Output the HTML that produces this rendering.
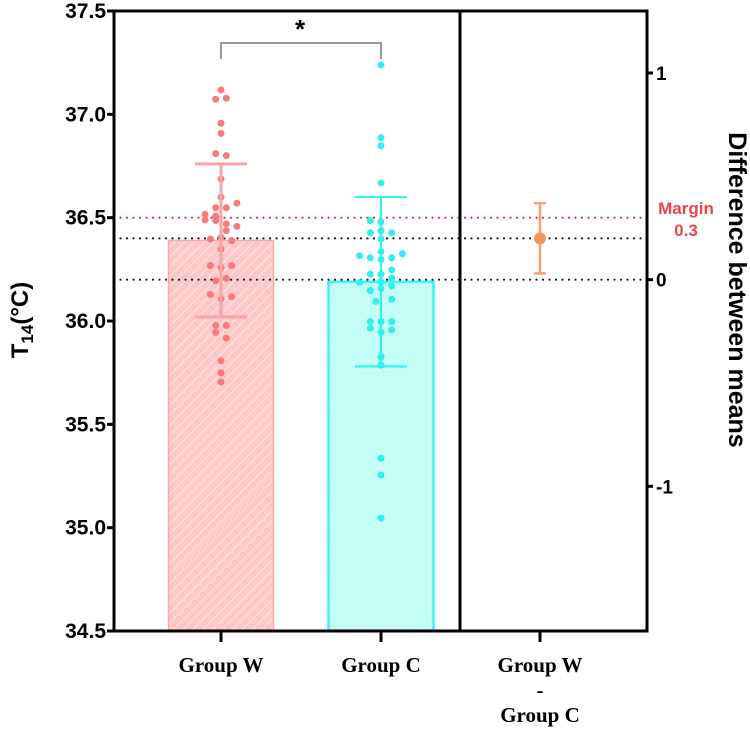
<!DOCTYPE html>
<html><head><meta charset="utf-8"><style>
html,body{margin:0;padding:0;background:#fff;}
svg{display:block;}
.sans{font-family:"Liberation Sans",sans-serif;}
.serif{font-family:"Liberation Serif",serif;}
</style></head><body>
<svg id="chart" width="750" height="741" viewBox="0 0 750 741">
<defs>
<pattern id="hatchW" width="7" height="7" patternUnits="userSpaceOnUse" patternTransform="rotate(45)">
<rect width="7" height="7" fill="#ffc8c8"/><line x1="0" y1="0" x2="0" y2="7" stroke="#ffe6e6" stroke-width="2"/></pattern>
<pattern id="hatchC" width="7" height="7" patternUnits="userSpaceOnUse" patternTransform="rotate(45)">
<rect width="7" height="7" fill="#c2fff9"/><line x1="0" y1="0" x2="0" y2="7" stroke="#d4f8e4" stroke-width="2"/></pattern>
</defs>
<g id="plot"></g>
</svg>
<script>
const categories = ["Group W","Group C"];
const means = [36.39, 36.19];
const sdHigh = [36.76, 36.60];
const sdLow = [36.02, 35.78];
const yTicks = [34.5,35.0,35.5,36.0,36.5,37.0,37.5];
const yTickLabels = ["34.5","35.0","35.5","36.0","36.5","37.0","37.5"];
const pointsW = [37.118,37.073,37.078,36.957,36.908,36.81,36.80,36.687,36.599,36.570,36.548,36.548,36.516,36.508,36.489,36.486,36.470,36.458,36.437,36.405,36.397,36.389,36.347,36.268,36.258,36.268,36.207,36.194,36.128,36.118,36.107,35.978,35.978,35.945,35.917,35.807,35.749,35.705];
const offsetsW = [0,-1,1,0,0,-1,1,0,0,3,-1,1,-3,-1,-3,-1,1,3,1,0,-2,2,0,-2,0,2,1,-1,-2,2,0,-1,1,-1,1,0,0,0];
const pointsC = [37.239,36.887,36.848,36.668,36.486,36.479,36.427,36.437,36.427,36.397,36.336,36.316,36.306,36.298,36.306,36.326,36.247,36.226,36.226,36.207,36.186,36.19,36.170,36.157,36.147,36.105,36.095,35.997,35.997,35.997,35.965,35.957,35.945,35.828,35.826,35.786,35.336,35.255,35.046];
const offsetsC = [0,0,0,0,-1,0,-1,0,1,0,0,-2,-1,0,1,2,1,-1,0,1,-2,0,1,0,-1,1,-0.5,-1,0,1,-1,1,0,0,0,0,0,0,0];
const diffLabel = ["Group W","-","Group C"];
const diffMean = 0.20, diffLow = 0.03, diffHigh = 0.37;
const rTicks = [-1,0,1];
const margin = 0.3;
const refLines = [0.3, 0.2, 0];

const NS="http://www.w3.org/2000/svg";
const g=document.getElementById('plot');
const L=114,R=647,T=11,B=631,DIV=460;
const y=v=>B-(v-34.5)*(B-T)/3;
const yr=v=>y(v+36.2);
const xc=[221,381], xd=540;
function mk(tag,attrs,parent){const e=document.createElementNS(NS,tag);for(const k in attrs)e.setAttribute(k,attrs[k]);(parent||g).appendChild(e);return e;}

const fills=["url(#hatchW)","url(#hatchC)"], strokes=["#f9a9a9","#3ff4f0"];
categories.forEach((c,i)=>{
 const b=mk('rect',{x:xc[i]-52.5,y:y(means[i]),width:105,height:B-y(means[i]),fill:fills[i],stroke:strokes[i],'stroke-width':i?2.5:1.5});
 
 
});
refLines.forEach((v,i)=>{
 const l=mk('line',{x1:L,x2:R,y1:yr(v),y2:yr(v),stroke:i===0?'#e8202a':'#111','stroke-width':2.2,'stroke-dasharray':'0 6.5','stroke-linecap':'round'});
 
 
});
const ptCol=["#f47c7c","#33eeee"];
[pointsW,pointsC].forEach((arr,i)=>{
 const offs=i?offsetsC:offsetsW, step=i?10.7:5.3;
 arr.forEach((v,j)=>{
  const p=mk('circle',{cx:xc[i]+offs[j]*step,cy:y(v),r:3.5,fill:ptCol[i]});
  
  
 });
});
const ebCol=["#f9a3a3","#2ef2ee"];
categories.forEach((c,i)=>{
 const eg=mk('g',{stroke:ebCol[i],'stroke-width':i?2:3});
 
 
 mk('line',{x1:xc[i],x2:xc[i],y1:y(sdHigh[i]),y2:y(sdLow[i])},eg);
 mk('line',{x1:xc[i]-26,x2:xc[i]+26,y1:y(sdHigh[i]),y2:y(sdHigh[i])},eg);
 mk('line',{x1:xc[i]-26,x2:xc[i]+26,y1:y(sdLow[i]),y2:y(sdLow[i])},eg);
});
const dg=mk('g',{stroke:'#f7a070','stroke-width':2.5});


mk('line',{x1:xd,x2:xd,y1:yr(diffHigh),y2:yr(diffLow)},dg);
mk('line',{x1:xd-6,x2:xd+6,y1:yr(diffHigh),y2:yr(diffHigh)},dg);
mk('line',{x1:xd-6,x2:xd+6,y1:yr(diffLow),y2:yr(diffLow)},dg);
const dp=mk('circle',{cx:xd,cy:yr(diffMean),r:6,fill:'#f4945c'});



const ax=mk('g',{stroke:'#000','stroke-width':3,fill:'none'});


mk('polyline',{points:`${L},${B} ${L},${T} ${R},${T} ${R},${B} ${L-1.5},${B}`},ax);
mk('line',{x1:DIV,x2:DIV,y1:T,y2:B},ax);
yTicks.forEach(v=>mk('line',{x1:L-7,x2:L,y1:y(v),y2:y(v)},ax));
rTicks.forEach(v=>mk('line',{x1:R,x2:R+6,y1:yr(v),y2:yr(v)},ax));
xc.concat([xd]).forEach(x=>mk('line',{x1:x,x2:x,y1:B,y2:B+11},ax));

yTicks.forEach((v,i)=>{
 const t=mk('text',{x:L-8,y:y(v)+7,'text-anchor':'end','font-size':21,'font-weight':'bold',class:'sans'});
 t.textContent=yTickLabels[i];
 
 
});
rTicks.forEach(v=>{
 const t=mk('text',{x:R+9,y:yr(v)+7,'font-size':19,'font-weight':'bold',class:'sans'});
 t.textContent=String(v);
 
 
});
categories.forEach((c,i)=>{
 const t=mk('text',{x:xc[i],y:672,'text-anchor':'middle','font-size':21,'font-weight':'bold',class:'serif'});
 t.textContent=c;
 
 
});
diffLabel.forEach((s,i)=>{
 const t=mk('text',{x:xd,y:[672,697,722][i],'text-anchor':'middle','font-size':21,'font-weight':'bold',class:'serif'});
 t.textContent=s;
 
 
});
</script>
<div style="position:absolute;left:0;top:0;width:750px;height:741px;pointer-events:none;">
<svg width="750" height="741" style="position:absolute;left:0;top:0">
<g stroke="#777" stroke-width="1.5" fill="none">
<polyline points="221,59 221,43 381,43 381,59"/></g>
<text x="300" y="38" text-anchor="middle" font-size="26" font-weight="bold" class="sans">*</text>
<text x="686" y="214" text-anchor="middle" font-size="17" font-weight="bold" fill="#f0424a" class="sans">Margin</text>
<text x="686" y="236" text-anchor="middle" font-size="17" font-weight="bold" fill="#f0424a" class="sans">0.3</text>
<text transform="translate(28,320) rotate(-90)" text-anchor="middle" font-size="24" font-weight="bold" class="sans">T<tspan font-size="17" dy="5">14</tspan><tspan dy="-5">(°C)</tspan></text>
<text transform="translate(729,290) rotate(90)" text-anchor="middle" font-size="25" font-weight="bold" class="sans">Difference between means</text>
</svg></div>
</body></html>
